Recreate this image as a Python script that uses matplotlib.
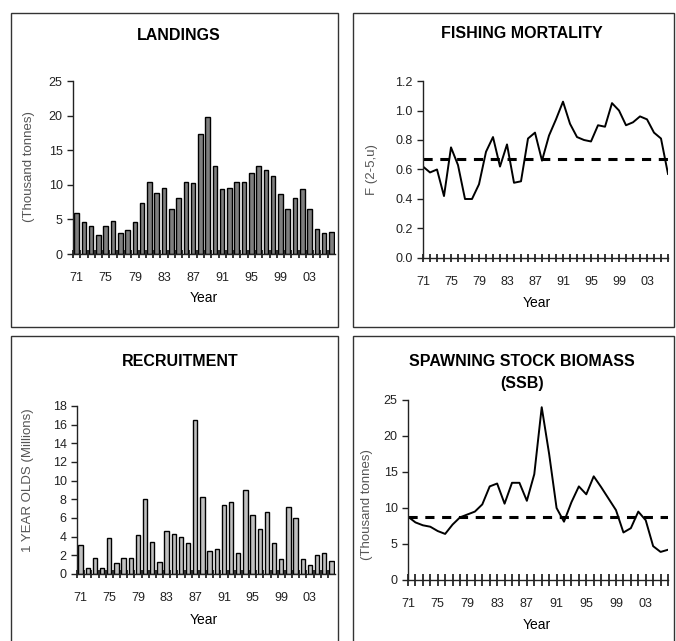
import numpy as np
import matplotlib
matplotlib.use("Agg")
from matplotlib import pyplot as plt
from matplotlib.patches import Rectangle

plt.rcParams['font.family'] = ['Liberation Sans', 'DejaVu Sans']

years = list(range(1971, 2007))
year_labels = ["%02d" % (y % 100) for y in years]

landings = [5.9, 4.6, 4.0, 2.8, 4.0, 4.8, 3.0, 3.4, 4.6, 7.3,
            10.4, 8.8, 9.6, 6.5, 8.1, 10.4, 10.2, 17.3, 19.8, 12.7,
            9.4, 9.6, 10.4, 10.4, 11.7, 12.7, 12.1, 11.3, 8.6, 6.5,
            8.1, 9.4, 6.5, 3.6, 3.0, 3.2]

fmort = [0.62, 0.58, 0.60, 0.42, 0.75, 0.63, 0.40, 0.40, 0.50, 0.72,
         0.82, 0.62, 0.77, 0.51, 0.52, 0.81, 0.85, 0.66, 0.83, 0.94,
         1.06, 0.91, 0.82, 0.80, 0.79, 0.90, 0.89, 1.05, 1.00, 0.90,
         0.92, 0.96, 0.94, 0.85, 0.81, 0.57]
f_ref = 0.67

recruits = [3.1, 0.6, 1.7, 0.6, 3.9, 1.2, 1.7, 1.7, 4.2, 8.0,
            3.4, 1.3, 4.6, 4.3, 4.0, 3.3, 16.5, 8.2, 2.5, 2.7,
            7.4, 7.7, 2.2, 9.0, 6.3, 4.8, 6.6, 3.3, 1.6, 7.2,
            6.0, 1.6, 1.0, 2.0, 2.3, 1.4]

ssb = [8.8, 8.0, 7.6, 7.4, 6.8, 6.4, 7.7, 8.7, 9.1, 9.5,
       10.5, 13.0, 13.4, 10.6, 13.5, 13.5, 11.0, 14.7, 24.0, 17.5,
       10.0, 8.1, 10.8, 13.0, 11.9, 14.4, 12.9, 11.3, 9.7, 6.6,
       7.2, 9.5, 8.3, 4.7, 3.9, 4.2]
ssb_ref = 8.8

W, H = 676, 641
fig = plt.figure(figsize=(W / 100, H / 100), dpi=100)


def px_axes(left, right, top, bottom):
    return fig.add_axes([left / W, 1 - bottom / H, (right - left) / W, (bottom - top) / H])


def box(x0, x1, y0, y1):
    fig.add_artist(Rectangle((x0 / W, 1 - y1 / H), (x1 - x0) / W, (y1 - y0) / H,
                             transform=fig.transFigure, fill=False, lw=1.0, ec='#333333'))


def ftext(x, y, s, **kw):
    fig.text(x / W, 1 - y / H, s, **kw)


x = np.arange(len(years))
lab_idx = np.arange(0, 36, 4)


def style(ax, bars, tlen=6):
    for s in ['top', 'right']:
        ax.spines[s].set_visible(False)
    for s in ['left', 'bottom']:
        ax.spines[s].set_linewidth(1.0)
        ax.spines[s].set_color('#222222')
    ax.tick_params(labelsize=9, colors='#222222', length=4, width=1)
    # year labels every 4 years, ticks between categories (bars) or on points (lines)
    ax.set_xticks(lab_idx)
    ax.set_xticklabels([year_labels[i] for i in lab_idx])
    ax.tick_params(axis='x', which='major', length=0, pad=13)
    ax.set_xticks(x - 0.5 if bars else x, minor=True)
    ax.tick_params(axis='x', which='minor', direction='inout', length=tlen, width=1.1)
    if not bars:
        # make minor ticks at label positions visible too
        ax.xaxis.remove_overlapping_locs = False


box(11, 338, 13, 327)
box(353, 674, 13, 327)
box(11, 338, 336, 645)
box(353, 674, 336, 645)

# landings
ax1 = px_axes(73, 335, 81, 254)
ax1.bar(x, landings, width=0.62, color='#7f7f7f', edgecolor='black', linewidth=1.0)
ax1.set_xlim(-0.5, 35.5)
ax1.set_ylim(0, 25)
ax1.set_yticks(range(0, 26, 5))
style(ax1, True)
ftext(29, 167, '(Thousand tonnes)', fontsize=9.5, color='#555555', rotation=90, ha='center', va='center')
ftext(179, 36, 'LANDINGS', fontsize=11.5, fontweight='bold', ha='center', va='center')
ftext(204, 298, 'Year', fontsize=10, ha='center', va='center')

# fishing mortality
ax2 = px_axes(423, 668, 81, 258)
ax2.plot(x, fmort, color='black', lw=1.4)
ax2.axhline(f_ref, color='black', lw=2.2, ls=(0, (3, 2.5)))
ax2.set_xlim(0, 35)
ax2.set_ylim(0, 1.2)
ax2.set_yticks(np.arange(0, 1.21, 0.2))
ax2.set_yticklabels(['%.1f' % v for v in np.arange(0, 1.21, 0.2)])
style(ax2, False)
ftext(372, 170, 'F (2-5,u)', fontsize=9.5, color='#555555', rotation=90, ha='center', va='center')
ftext(522, 34, 'FISHING MORTALITY', fontsize=11.5, fontweight='bold', ha='center', va='center')
ftext(537, 303, 'Year', fontsize=10, ha='center', va='center')

# recruitment
ax3 = px_axes(77, 335, 406, 574)
ax3.bar(x, recruits, width=0.62, color='#c0c0c0', edgecolor='black', linewidth=1.0)
ax3.set_xlim(-0.5, 35.5)
ax3.set_ylim(0, 18)
ax3.set_yticks(range(0, 19, 2))
style(ax3, True)
ftext(28, 480, '1 YEAR OLDS (Millions)', fontsize=9.5, color='#555555', rotation=90, ha='center', va='center')
ftext(180, 361, 'RECRUITMENT', fontsize=11.5, fontweight='bold', ha='center', va='center')
ftext(204, 620, 'Year', fontsize=10, ha='center', va='center')

# ssb
ax4 = px_axes(408, 668, 400, 580)
ax4.plot(x, ssb, color='black', lw=1.4)
ax4.axhline(ssb_ref, color='black', lw=2.2, ls=(0, (3, 2.5)))
ax4.set_xlim(0, 35)
ax4.set_ylim(0, 25)
ax4.set_yticks(range(0, 26, 5))
style(ax4, False, tlen=8)
ftext(367, 505, '(Thousand tonnes)', fontsize=9.5, color='#555555', rotation=90, ha='center', va='center')
ftext(522, 362, 'SPAWNING STOCK BIOMASS', fontsize=11.5, fontweight='bold', ha='center', va='center')
ftext(522, 383, '(SSB)', fontsize=11.5, fontweight='bold', ha='center', va='center')
ftext(537, 625, 'Year', fontsize=10, ha='center', va='center')

fig.savefig('out.png', dpi=100)
